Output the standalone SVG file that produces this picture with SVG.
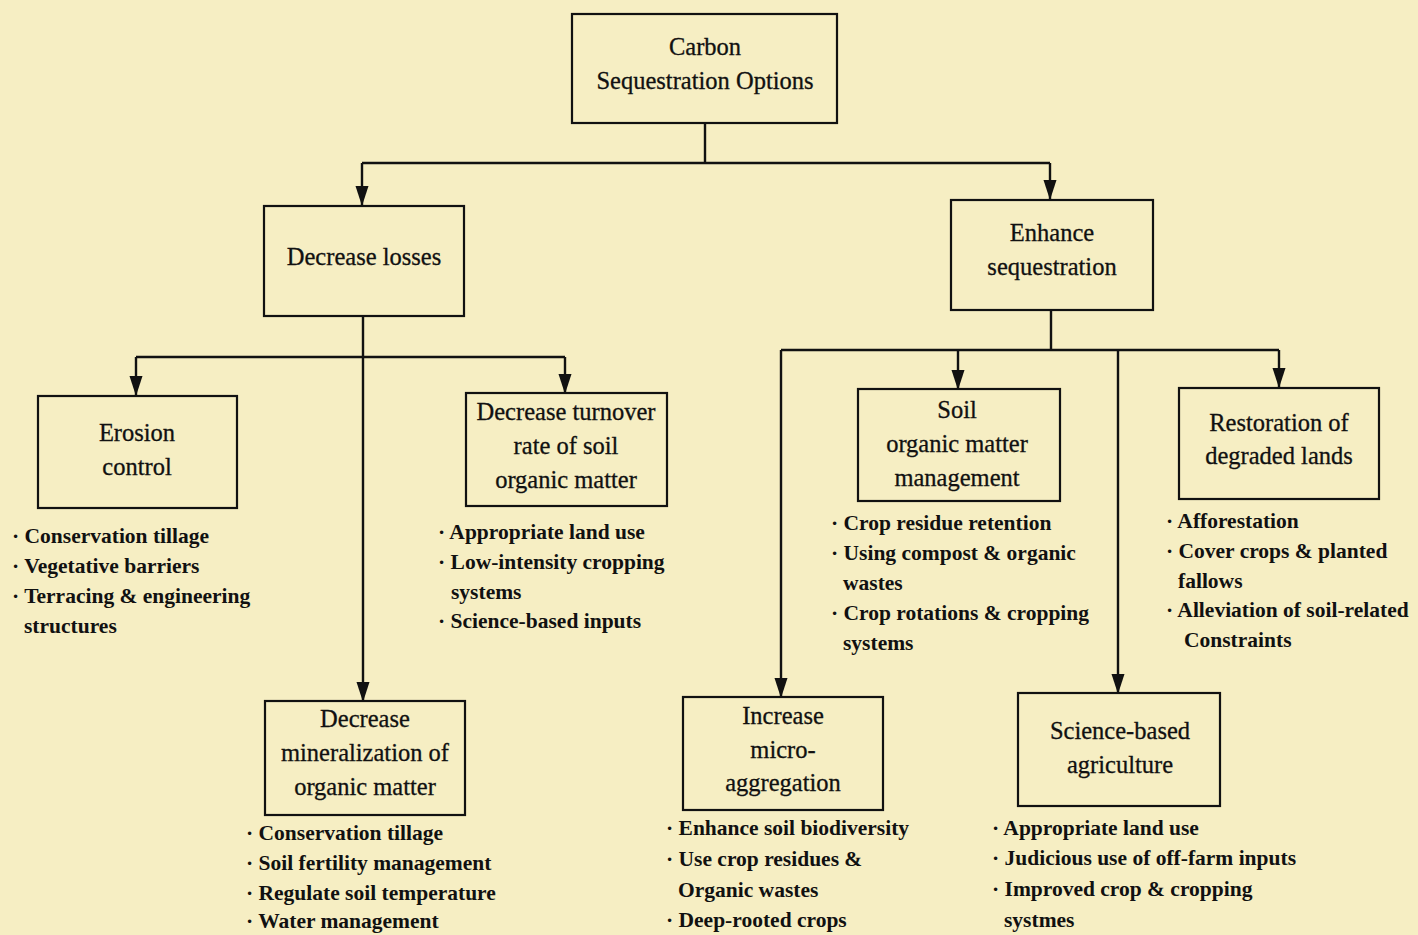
<svg xmlns="http://www.w3.org/2000/svg" width="1418" height="935" viewBox="0 0 1418 935">
  <defs>
    <marker id="arrow" markerUnits="userSpaceOnUse" markerWidth="20" markerHeight="14" refX="19" refY="6.5" orient="auto" viewBox="0 0 20 13">
      <path d="M0,0 L20,6.5 L0,13 Z" fill="#111"/>
    </marker>
    <style>
      .box { fill: none; stroke: #111; stroke-width: 2.2; }
      .lbl { font-family: "Liberation Serif", "Times New Roman", serif; font-size: 24.5px; fill: #111; text-anchor: middle; stroke: #111; stroke-width: 0.3; }
      .lst { font-family: "Liberation Serif", "Times New Roman", serif; font-size: 21.5px; font-weight: bold; fill: #111; }
      .wire { fill: none; stroke: #111; stroke-width: 2.4; }
      .tip { marker-end: url(#arrow); }
    </style>
  </defs>

  <rect width="1418" height="935" fill="#f6eec3"/>

  <!-- connectors -->
  <g id="connectors">
    <path class="wire" d="M705,123 V163 M362,163 H1050"/>
    <path class="wire tip" d="M362,163 V205"/>
    <path class="wire tip" d="M1050,163 V199"/>
    <path class="wire" d="M136,357 H565"/>
    <path class="wire tip" d="M363,316 V701"/>
    <path class="wire tip" d="M136,357 V395"/>
    <path class="wire tip" d="M565,357 V393"/>
    <path class="wire" d="M1051,310 V350 M781,350 H1279"/>
    <path class="wire tip" d="M781,350 V697"/>
    <path class="wire tip" d="M958,350 V389"/>
    <path class="wire tip" d="M1118,350 V693"/>
    <path class="wire tip" d="M1279,350 V387"/>
  </g>

  <!-- root -->
  <g id="carbon-options">
    <rect class="box" x="572" y="14" width="265" height="109"/>
    <text class="lbl" x="705" y="55">Carbon</text>
    <text class="lbl" x="705" y="89">Sequestration Options</text>
  </g>

  <g id="decrease-losses">
    <rect class="box" x="264" y="206" width="200" height="110"/>
    <text class="lbl" x="364" y="265">Decrease losses</text>
  </g>

  <g id="enhance-sequestration">
    <rect class="box" x="951" y="200" width="202" height="110"/>
    <text class="lbl" x="1052" y="241">Enhance</text>
    <text class="lbl" x="1052" y="275">sequestration</text>
  </g>

  <g id="erosion-control">
    <rect class="box" x="38" y="396" width="199" height="112"/>
    <text class="lbl" x="137" y="441">Erosion</text>
    <text class="lbl" x="137" y="475">control</text>
    <text class="lst" x="12" y="543">· Conservation tillage</text>
    <text class="lst" x="12" y="573">· Vegetative barriers</text>
    <text class="lst" x="12" y="603">· Terracing &amp; engineering</text>
    <text class="lst" x="24" y="633">structures</text>
  </g>

  <g id="decrease-turnover">
    <rect class="box" x="466" y="393" width="201" height="113"/>
    <text class="lbl" x="566" y="420">Decrease turnover</text>
    <text class="lbl" x="566" y="454">rate of soil</text>
    <text class="lbl" x="566" y="488">organic matter</text>
    <text class="lst" x="438" y="539">· Appropriate land use</text>
    <text class="lst" x="438" y="569">· Low-intensity cropping</text>
    <text class="lst" x="451" y="599">systems</text>
    <text class="lst" x="438" y="628">· Science-based inputs</text>
  </g>

  <g id="decrease-mineralization">
    <rect class="box" x="265" y="701" width="200" height="114"/>
    <text class="lbl" x="365" y="727">Decrease</text>
    <text class="lbl" x="365" y="761">mineralization of</text>
    <text class="lbl" x="365" y="795">organic matter</text>
    <text class="lst" x="246" y="840">· Conservation tillage</text>
    <text class="lst" x="246" y="870">· Soil fertility management</text>
    <text class="lst" x="246" y="900">· Regulate soil temperature</text>
    <text class="lst" x="246" y="928">· Water management</text>
  </g>

  <g id="soil-om-management">
    <rect class="box" x="858" y="389" width="202" height="112"/>
    <text class="lbl" x="957" y="418">Soil</text>
    <text class="lbl" x="957" y="452">organic matter</text>
    <text class="lbl" x="957" y="486">management</text>
    <text class="lst" x="831" y="530">· Crop residue retention</text>
    <text class="lst" x="831" y="560">· Using compost &amp; organic</text>
    <text class="lst" x="843" y="590">wastes</text>
    <text class="lst" x="831" y="620">· Crop rotations &amp; cropping</text>
    <text class="lst" x="843" y="650">systems</text>
  </g>

  <g id="restoration">
    <rect class="box" x="1179" y="388" width="200" height="111"/>
    <text class="lbl" x="1279" y="431">Restoration of</text>
    <text class="lbl" x="1279" y="464">degraded lands</text>
    <text class="lst" x="1166" y="528">· Afforestation</text>
    <text class="lst" x="1166" y="558">· Cover crops &amp; planted</text>
    <text class="lst" x="1178" y="588">fallows</text>
    <text class="lst" x="1166" y="617">· Alleviation of soil-related</text>
    <text class="lst" x="1184" y="647">Constraints</text>
  </g>

  <g id="micro-aggregation">
    <rect class="box" x="683" y="697" width="200" height="113"/>
    <text class="lbl" x="783" y="724">Increase</text>
    <text class="lbl" x="783" y="758">micro-</text>
    <text class="lbl" x="783" y="791">aggregation</text>
    <text class="lst" x="666" y="835">· Enhance soil biodiversity</text>
    <text class="lst" x="666" y="866">· Use crop residues &amp;</text>
    <text class="lst" x="678" y="897">Organic wastes</text>
    <text class="lst" x="666" y="927">· Deep-rooted crops</text>
  </g>

  <g id="science-agriculture">
    <rect class="box" x="1018" y="693" width="202" height="113"/>
    <text class="lbl" x="1120" y="739">Science-based</text>
    <text class="lbl" x="1120" y="773">agriculture</text>
    <text class="lst" x="992" y="835">· Appropriate land use</text>
    <text class="lst" x="992" y="865">· Judicious use of off-farm inputs</text>
    <text class="lst" x="992" y="896">· Improved crop &amp; cropping</text>
    <text class="lst" x="1004" y="927">systmes</text>
  </g>
</svg>
